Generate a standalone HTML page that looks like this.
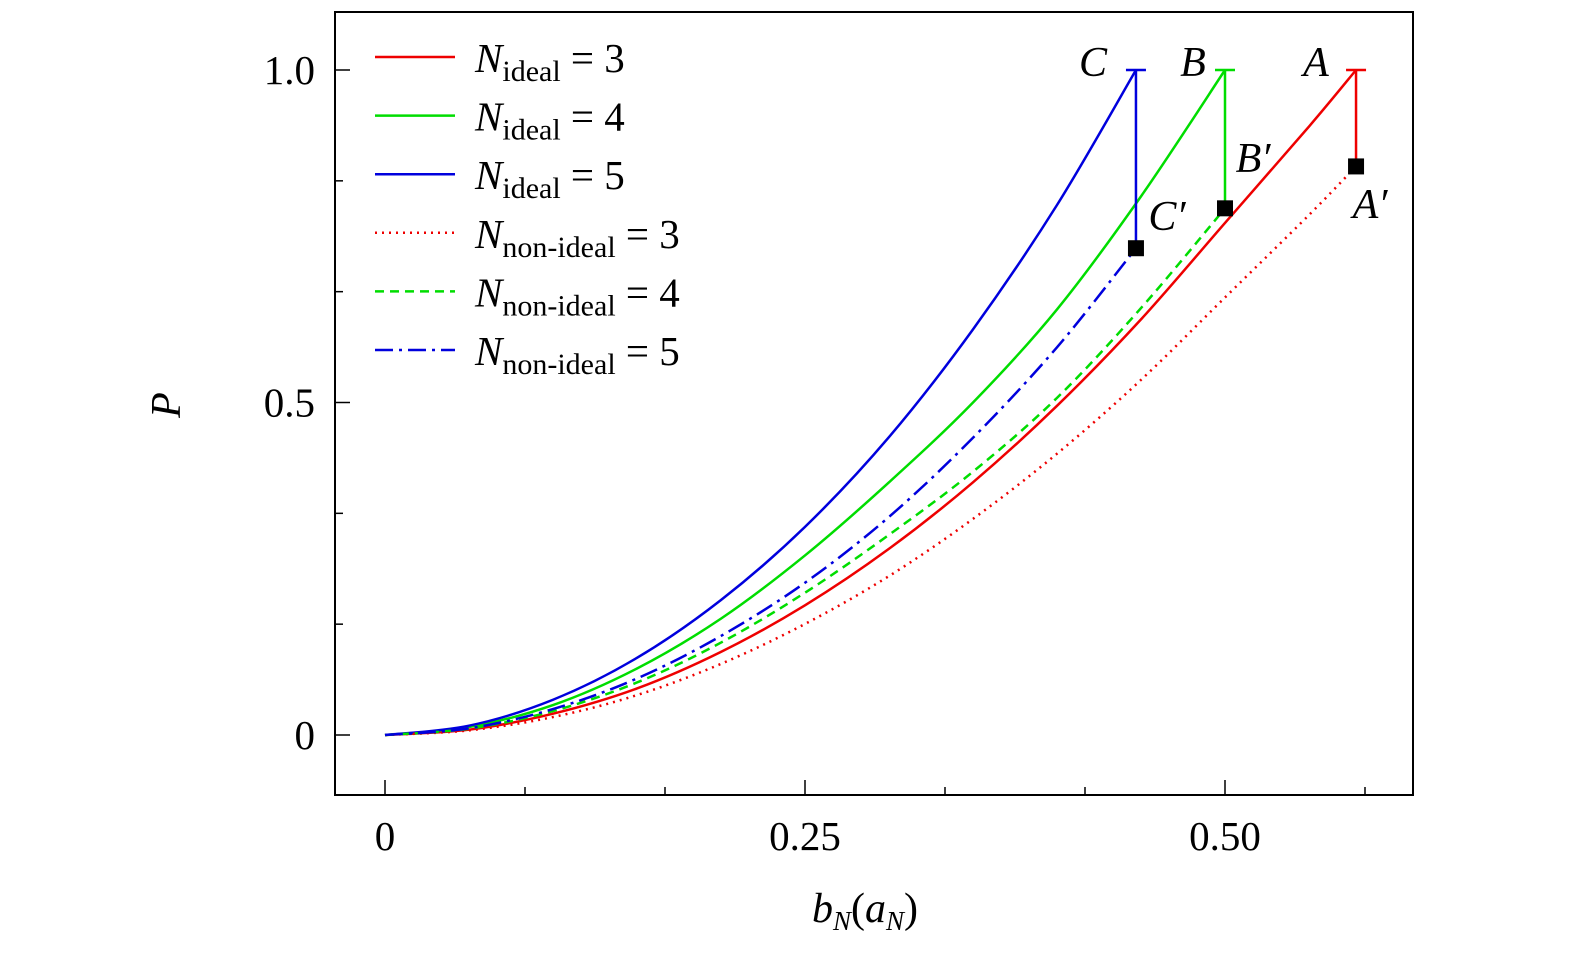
<!DOCTYPE html>
<html><head><meta charset="utf-8"><style>
body{margin:0;background:#fff}
svg text{font-family:"Liberation Serif",serif;fill:#000}
.it{font-style:italic}
</style></head><body>
<svg id="chart" width="1575" height="955" xmlns="http://www.w3.org/2000/svg">
<rect x="335" y="12" width="1078" height="783" fill="none" stroke="#000" stroke-width="2"/>
<g id="ticks"></g>
<g id="curves"></g>
<g id="legend"></g>
<text x="180" y="405" class="it" font-size="42" transform="rotate(-90 180 405)" text-anchor="middle">P</text>
<text x="865" y="922" font-size="42" text-anchor="middle"><tspan class="it">b</tspan><tspan class="it" font-size="27" dy="8">N</tspan><tspan dy="-8">(</tspan><tspan class="it">a</tspan><tspan class="it" font-size="27" dy="8">N</tspan><tspan dy="-8">)</tspan></text>
</svg>
<script>
const xIdealRed=[0,0.05,0.1,0.15,0.2,0.25,0.3,0.35,0.4,0.45,0.5,0.55,0.578];
const yIdealRed=[0,0.008,0.032,0.07,0.125,0.195,0.28,0.38,0.495,0.625,0.77,0.915,1.0];
const yNonRed=[0,0.007,0.027,0.06,0.107,0.167,0.239,0.325,0.423,0.534,0.658,0.782,0.855];
const xGreen=[0,0.05,0.1,0.15,0.2,0.25,0.3,0.35,0.4,0.45,0.5];
const yIdealGreen=[0,0.012,0.045,0.1,0.175,0.27,0.38,0.5,0.64,0.81,1.0];
const yNonGreen=[0,0.0095,0.036,0.079,0.139,0.214,0.301,0.396,0.507,0.642,0.792];
const xBlue=[0,0.05,0.1,0.15,0.2,0.25,0.3,0.35,0.4,0.447];
const yIdealBlue=[0,0.014,0.053,0.116,0.203,0.313,0.448,0.61,0.797,1.0];
const yNonBlue=[0,0.010,0.039,0.085,0.149,0.229,0.328,0.447,0.583,0.732];
const xTickVals=[0,0.25,0.5];
const xTickLabels=["0","0.25","0.50"];
const yTickVals=[0,0.5,1.0];
const yTickLabels=["0","0.5","1.0"];
const pointLabels=["A","B","C"];

const X=v=>385+v*1680, Y=v=>735-v*665;
const NS="http://www.w3.org/2000/svg";
function mk(tag,attrs,parent){const e=document.createElementNS(NS,tag);for(const k in attrs)e.setAttribute(k,attrs[k]);parent.appendChild(e);return e;}
const tg=document.getElementById('ticks');
for(let i=0;i<=7;i++){const v=i/12;const t=mk('line',{x1:X(v),x2:X(v),y1:795,y2:xTickVals.some(a=>Math.abs(a-v)<1e-6)?780:787,stroke:'#000','stroke-width':1.5},tg);

}
for(let i=0;i<=6;i++){const v=i/6;const t=mk('line',{x1:335,x2:yTickVals.some(a=>Math.abs(a-v)<1e-6)?350:343,y1:Y(v),y2:Y(v),stroke:'#000','stroke-width':1.5},tg);

}
xTickVals.forEach((v,i)=>{const t=mk('text',{x:X(v),y:850,'font-size':41,'text-anchor':'middle'},tg);t.textContent=xTickLabels[i];

});
yTickVals.forEach((v,i)=>{const t=mk('text',{x:315,y:Y(v)+14,'font-size':41,'text-anchor':'end'},tg);t.textContent=yTickLabels[i];

});

const cg=document.getElementById('curves');
function path(xs,ys){
 const p=xs.map((x,i)=>[X(x),Y(ys[i])]);let d='M'+p[0][0]+','+p[0][1];
 for(let i=0;i<p.length-1;i++){const p0=p[i-1]||p[i],p1=p[i],p2=p[i+1],p3=p[i+2]||p2;
 d+=` C${p1[0]+(p2[0]-p0[0])/6},${p1[1]+(p2[1]-p0[1])/6} ${p2[0]-(p3[0]-p1[0])/6},${p2[1]-(p3[1]-p1[1])/6} ${p2[0]},${p2[1]}`;}
 return d;}
const series=[
 [xIdealRed,yIdealRed,'#e00','','ideal-3'],
 [xGreen,yIdealGreen,'#0d0','','ideal-4'],
 [xBlue,yIdealBlue,'#00d','','ideal-5'],
 [xIdealRed,yNonRed,'#e00','2 5','non-ideal-3'],
 [xGreen,yNonGreen,'#0d0','9 6','non-ideal-4'],
 [xBlue,yNonBlue,'#00d','18 6 3 6','non-ideal-5']];
series.forEach(s=>{const p=mk('path',{d:path(s[0],s[1]),fill:'none',stroke:s[2],'stroke-width':2.5,'stroke-dasharray':s[3]},cg);

});
[[xIdealRed,yIdealRed,yNonRed,'#e00'],[xGreen,yIdealGreen,yNonGreen,'#0d0'],[xBlue,yIdealBlue,yNonBlue,'#00d']].forEach((s,i)=>{
 const n=s[0].length-1,x=X(s[0][n]),y1=Y(s[1][n]),y2=Y(s[2][n]);
 const l=mk('line',{x1:x,x2:x,y1:y1,y2:y2,stroke:s[3],'stroke-width':2.5},cg);
 
 
 const c=mk('line',{x1:x-10,x2:x+10,y1:y1,y2:y1,stroke:s[3],'stroke-width':2.5},cg);
 
 
 const m=mk('rect',{x:x-8,y:y2-8,width:16,height:16,fill:'#000'},cg);
 
 
});
const labs=[["C",1093,76],["B",1193,76],["A",1316,76],["B′",1253,172],["C′",1167,230],["A′",1370,218]];
labs.forEach(l=>{const t=mk('text',{x:l[1],y:l[2],'font-size':42,'text-anchor':'middle',class:'it'},cg);t.textContent=l[0];

});

const lg=document.getElementById('legend');
const legItems=[['ideal','3','#e00',''],['ideal','4','#0d0',''],['ideal','5','#00d',''],['non-ideal','3','#e00','2 5'],['non-ideal','4','#0d0','9 6'],['non-ideal','5','#00d','18 6 3 6']];
legItems.forEach((it,i)=>{const y=57+i*58.6;
 const l=mk('line',{x1:375,x2:455,y1:y,y2:y,stroke:it[2],'stroke-width':2.5,'stroke-dasharray':it[3]},lg);
 
 
 const t=mk('text',{x:475,y:y+15,'font-size':41},lg);
 t.innerHTML=`<tspan font-style="italic">N</tspan><tspan font-size="30" dy="9">${it[0]}</tspan><tspan dy="-9"> = ${it[1]}</tspan>`;
 
 
});
</script>
</body></html>
